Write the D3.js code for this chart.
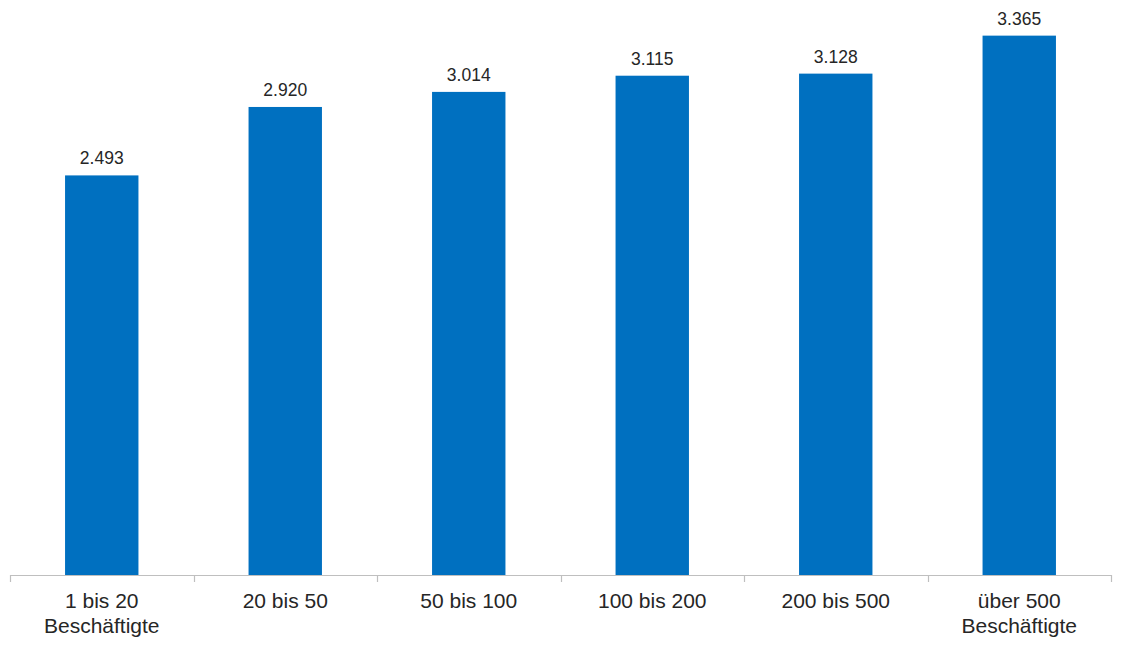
<!DOCTYPE html>
<html><head><meta charset="utf-8">
<script src="https://cdn.jsdelivr.net/npm/d3@7"></script>
<style>html,body{margin:0;padding:0;background:#fff;}svg{display:block;}</style>
</head><body>
<svg id="chart" width="1122" height="645"></svg>
<script>
const categories = ["1 bis 20|Beschäftigte", "20 bis 50", "50 bis 100", "100 bis 200", "200 bis 500", "über 500|Beschäftigte"];
const values = [2493, 2920, 3014, 3115, 3128, 3365];

const svg = d3.select("#chart");
const left = 10, right = 1111, baseY = 575, topY = 14;
const de = d3.formatLocale({decimal: ",", thousands: ".", grouping: [3], currency: ["", " €"]});
const fmt = de.format(",");

const xSlot = d3.scaleBand().domain(categories).range([left, right]).padding(0);
const x = d3.scaleBand().domain(categories).range([left, right]).paddingInner(0.6).paddingOuter(0.3);
const y = d3.scaleLinear().domain([0, 3500]).range([baseY, topY]);

svg.append("g").selectAll("rect").data(values).join("rect")
  .attr("x", (d, i) => x(categories[i]))
  .attr("width", x.bandwidth())
  .attr("y", d => y(d))
  .attr("height", d => y(0) - y(d))
  .attr("fill", "#0070C0");

svg.append("g").selectAll("text").data(values).join("text")
  .attr("x", (d, i) => x(categories[i]) + x.bandwidth() / 2)
  .attr("y", d => y(d) - 11)
  .attr("text-anchor", "middle")
  .attr("font-family", "Liberation Sans, Arial, sans-serif")
  .attr("font-size", 17.5)
  .attr("fill", "#262626")
  .text(d => fmt(d));

// axis
const axis = svg.append("g");
axis.append("line").attr("x1", left).attr("x2", right).attr("y1", baseY + 0.5).attr("y2", baseY + 0.5)
  .attr("stroke", "#bfbfbf").attr("stroke-width", 1.2);
const bounds = categories.map(c => xSlot(c)).concat([right]);
axis.selectAll("line.tick").data(bounds).join("line").attr("class", "tick")
  .attr("x1", d => Math.round(d) + 0.5).attr("x2", d => Math.round(d) + 0.5)
  .attr("y1", baseY).attr("y2", baseY + 7)
  .attr("stroke", "#bfbfbf").attr("stroke-width", 1.2);

const lab = svg.append("g").selectAll("text").data(categories).join("text")
  .attr("x", d => xSlot(d) + xSlot.bandwidth() / 2)
  .attr("y", 608)
  .attr("text-anchor", "middle")
  .attr("font-family", "Liberation Sans, Arial, sans-serif")
  .attr("font-size", 21)
  .attr("fill", "#262626");
lab.each(function(d) {
  const parts = d.split("|");
  const t = d3.select(this);
  parts.forEach((p, i) => {
    t.append("tspan").attr("x", xSlot(d) + xSlot.bandwidth() / 2).attr("dy", i === 0 ? 0 : 25).text(p);
  });
});
</script>
</body></html>
